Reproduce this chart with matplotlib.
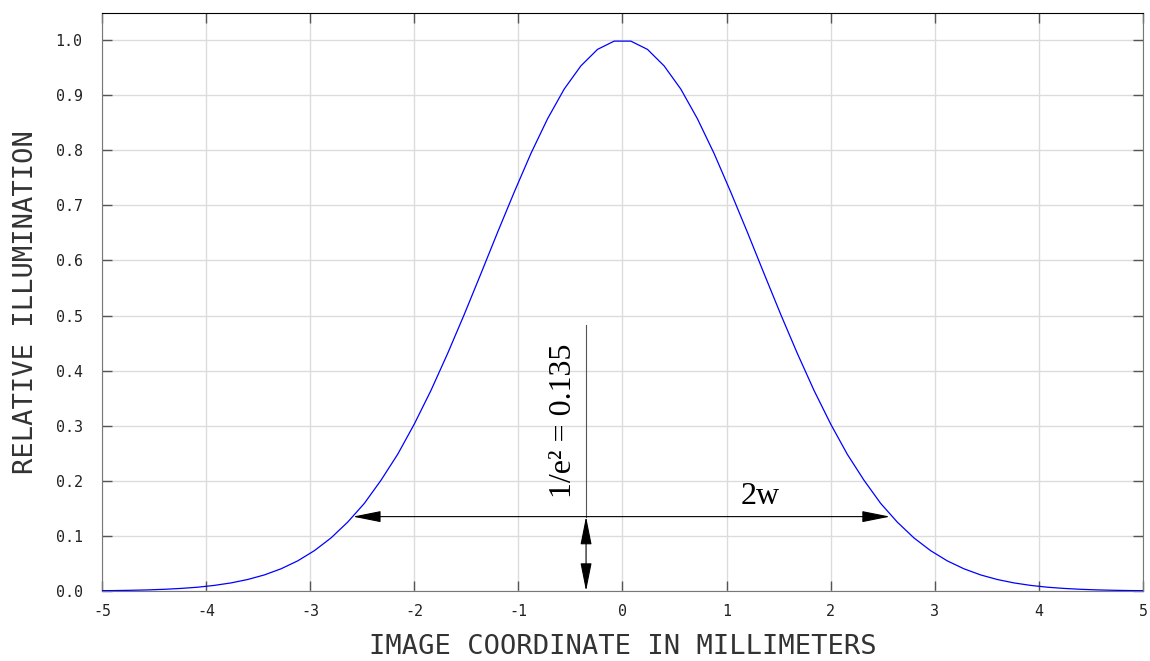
import matplotlib.pyplot as plt
from matplotlib.ticker import MultipleLocator, FormatStrFormatter

# image coordinate (mm) and relative illumination
x_mm = [-5.0, -4.88, -4.72, -4.56, -4.40, -4.24, -4.08, -3.92, -3.76, -3.60,
        -3.44, -3.28, -3.12, -2.96, -2.80, -2.64, -2.48, -2.32, -2.16, -2.00,
        -1.84, -1.68, -1.52, -1.36, -1.20, -1.04, -0.88, -0.72, -0.56, -0.40,
        -0.24, -0.08, 0.08, 0.24, 0.40, 0.56, 0.72, 0.88, 1.04, 1.20,
        1.36, 1.52, 1.68, 1.84, 2.00, 2.16, 2.32, 2.48, 2.64, 2.80,
        2.96, 3.12, 3.28, 3.44, 3.60, 3.76, 3.92, 4.08, 4.24, 4.40,
        4.56, 4.72, 4.88, 5.0]
illum = [0.0006, 0.0008, 0.0013, 0.0020, 0.0031, 0.0047, 0.0069, 0.0102, 0.0147, 0.0209,
         0.0292, 0.0403, 0.0547, 0.0732, 0.0963, 0.125, 0.159, 0.201, 0.248, 0.303,
         0.364, 0.431, 0.502, 0.576, 0.651, 0.724, 0.794, 0.857, 0.911, 0.953,
         0.983, 0.998, 0.998, 0.983, 0.953, 0.911, 0.857, 0.794, 0.724, 0.651,
         0.576, 0.502, 0.431, 0.364, 0.303, 0.248, 0.201, 0.159, 0.125, 0.0963,
         0.0732, 0.0547, 0.0403, 0.0292, 0.0209, 0.0147, 0.0102, 0.0069, 0.0047, 0.0031,
         0.0020, 0.0013, 0.0008, 0.0006]

level = 0.135        # 1/e^2
half_width = [-2.59, 2.57]
marker_x = -0.35

plt.rcParams['axes.unicode_minus'] = False
mono = 'DejaVu Sans Mono'
serif = 'Liberation Serif'

fig = plt.figure(figsize=(11.5, 6.61), dpi=100)
ax = fig.add_axes([0.0887, 0.1059, 0.9052, 0.8744])

ax.plot(x_mm, illum, color='#0000ff', lw=0.9, zorder=3)

ax.set_xlim(-5, 5)
ax.set_ylim(0, 1.049)
ax.xaxis.set_major_locator(MultipleLocator(1))
ax.yaxis.set_major_locator(MultipleLocator(0.1))
ax.yaxis.set_major_formatter(FormatStrFormatter('%.1f'))
ax.grid(True, color='#dcdcdc', lw=1)
ax.set_axisbelow(True)

ax.tick_params(direction='in', top=True, right=True, length=7, width=1,
               color='#555555', labelsize=10.8, labelcolor='#222222')
ax.tick_params(axis='x', pad=9)
ax.tick_params(axis='y', pad=14)
for lbl in ax.get_xticklabels() + ax.get_yticklabels():
    lbl.set_family(mono)

for side in ['left', 'bottom', 'right']:
    ax.spines[side].set_color('#777777')
ax.spines['top'].set_color('black')

ax.set_xlabel('IMAGE COORDINATE IN MILLIMETERS', family=mono, fontsize=19.5,
              color='#333333', labelpad=11)
ax.set_ylabel('RELATIVE ILLUMINATION', family=mono, fontsize=19.5,
              color='#333333', labelpad=12)

# 1/e^2 marker line and arrows
ax.plot([marker_x, marker_x], [level, 0.483], color='#555555', lw=0.8)
arrow = dict(arrowstyle='<|-|>,head_length=2.5,head_width=0.5',
             mutation_scale=7, color='black', lw=0.8, shrinkA=0, shrinkB=0)
ax.annotate('', xy=(half_width[0], level), xytext=(half_width[1], level),
            arrowprops=arrow, zorder=4)
ax.annotate('', xy=(marker_x, 0), xytext=(marker_x, level),
            arrowprops=arrow, zorder=4)

ax.text(-0.57, 0.309, '1/e² = 0.135', family=serif, fontsize=23,
        rotation=90, ha='center', va='center')
ax.text(1.32, 0.172, '2w', family=serif, fontsize=23, ha='center', va='center')

fig.savefig('out.png', dpi=100)
